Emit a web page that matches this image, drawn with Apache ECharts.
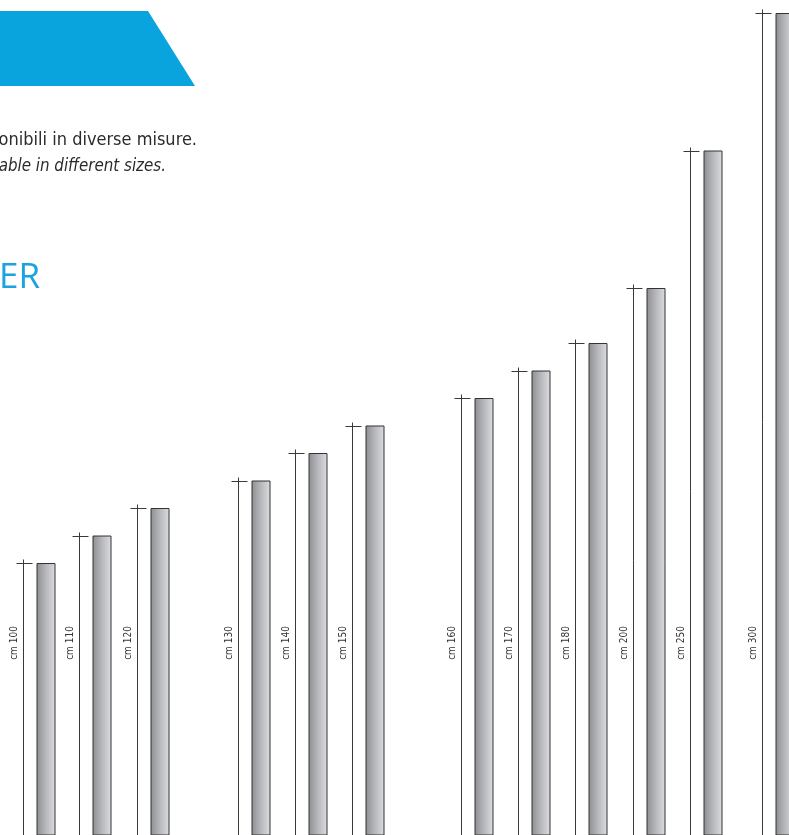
<!DOCTYPE html>
<html>
<head>
<meta charset="utf-8">
<style>
  html, body { margin: 0; padding: 0; background: #fff; }
  #main { width: 789px; height: 835px; }
</style>
<script src="https://cdn.jsdelivr.net/npm/echarts@6/dist/echarts.min.js"></script>
</head>
<body>
<div id="main"></div>
<script>
// misure disponibili (cm)
const sizes = [100, 110, 120, 130, 140, 150, 160, 170, 180, 200, 250, 300];
const labels = ['cm 100', 'cm 110', 'cm 120', 'cm 130', 'cm 140', 'cm 150',
  'cm 160', 'cm 170', 'cm 180', 'cm 200', 'cm 250', 'cm 300'];

// layout: centro di ogni barra sull'asse x (px della pagina)
const barCenterX = [46, 102, 160, 261, 318, 375, 484, 541, 598, 656, 713, 785];

var myChart = echarts.init(document.getElementById('main'));

const barGrad = new echarts.graphic.LinearGradient(0, 0, 1, 0, [
  { offset: 0, color: '#8d8e92' },
  { offset: 0.45, color: '#b3b4b7' },
  { offset: 1, color: '#dcdde0' }
]);

let options = {
  animation: false,
  grid: { left: 0, right: 0, top: 13, bottom: 0 },
  xAxis: { type: 'value', min: 0, max: 789, show: false },
  yAxis: { type: 'value', min: 1.1, max: 300, show: false },
  graphic: [
    {
      type: 'polygon',
      shape: { points: [[0, 11], [148, 11], [195, 86], [0, 86]] },
      style: { fill: '#09a3de' }
    },
    {
      type: 'text', right: 789 - 197, top: 131,
      style: {
        text: 'onibili in diverse misure.',
        font: '18px "Liberation Sans Narrow", "DejaVu Sans Condensed", sans-serif',
        fill: '#2b2b2b'
      }
    },
    {
      type: 'text', right: 789 - 166, top: 158,
      style: {
        text: 'able in different sizes.',
        font: 'italic 16.8px "Liberation Sans Narrow", "DejaVu Sans Condensed", sans-serif',
        fill: '#2b2b2b'
      }
    },
    {
      type: 'text', left: -1, top: 261,
      style: {
        text: 'ER',
        font: '35px "Open Sans", "Noto Sans", sans-serif',
        fill: '#1aa3de'
      }
    }
  ],
  series: [
    {
      // asta di misura con tacca + etichetta
      type: 'custom',
      data: sizes.map((v, i) => [barCenterX[i], v]),
      renderItem: (params, api) => {
        const top = api.coord([api.value(0), api.value(1)]);
        const lineX = Math.round(top[0] - 23) + 0.5;
        const y = Math.round(top[1]) + 0.5;
        return {
          type: 'group',
          children: [
            {
              type: 'line',
              shape: { x1: lineX, y1: y - 4, x2: lineX, y2: 840 },
              style: { stroke: '#3a3a3a', lineWidth: 1 }
            },
            {
              type: 'line',
              shape: { x1: lineX - 7, y1: y, x2: lineX + 9, y2: y },
              style: { stroke: '#3a3a3a', lineWidth: 1 }
            },
            {
              type: 'text',
              x: lineX - 9, y: 643, rotation: Math.PI / 2,
              style: {
                text: labels[params.dataIndex],
                font: '10px "Liberation Sans Narrow", "DejaVu Sans Condensed", sans-serif',
                fill: '#333',
                align: 'center',
                verticalAlign: 'middle'
              }
            }
          ]
        };
      }
    },
    {
      type: 'bar',
      data: sizes.map((v, i) => [barCenterX[i], v]),
      barWidth: 19,
      itemStyle: {
        color: barGrad,
        borderColor: '#333',
        borderWidth: 1
      }
    }
  ]
};
myChart.setOption(options);
</script>
</body>
</html>
